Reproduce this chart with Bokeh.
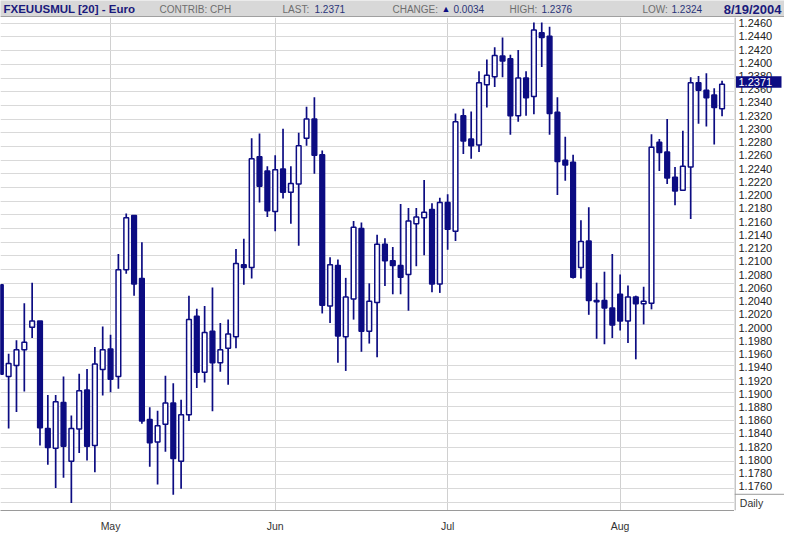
import pandas as pd
from bokeh.plotting import figure
from bokeh.layouts import column, row
from bokeh.models import ColumnDataSource, Range1d, FixedTicker, Grid
from bokeh.core.properties import value
from bokeh.embed import file_html
from bokeh.resources import INLINE

# ---------------- data ----------------
dates = pd.bdate_range("2004-04-13", "2004-08-19")
opens = [1.2078, 1.1944, 1.1960, 1.1983, 1.2016, 1.2025, 1.1868, 1.1839, 1.1906, 1.1820,
         1.1867, 1.1924, 1.1843, 1.1954, 1.1984, 1.1944, 1.2100, 1.2179, 1.2087, 1.1881,
         1.1848, 1.1874, 1.1905, 1.1820, 1.1888, 1.2032, 1.1950, 1.2010, 1.1964, 1.1985,
         1.2002, 1.2107, 1.2103, 1.2265, 1.2244, 1.2185, 1.2247, 1.2213, 1.2225, 1.2292,
         1.2320, 1.2268, 1.2047, 1.2106, 1.2002, 1.2057, 1.2160, 1.2010, 1.2052, 1.2137,
         1.2113, 1.2106, 1.2093, 1.2167, 1.2176, 1.2188, 1.2079, 1.2198, 1.2156, 1.2325,
         1.2291, 1.2282, 1.2370, 1.2382, 1.2412, 1.2408, 1.2325, 1.2380, 1.2353, 1.2446,
         1.2441, 1.2330, 1.2260, 1.2257, 1.2103, 1.2142, 1.2053, 1.2055, 1.2044, 1.2064,
         1.2025, 1.2060, 1.2050, 1.2051, 1.2286, 1.2272, 1.2235, 1.2216, 1.2250, 1.2373,
         1.2362, 1.2355, 1.2335]
highs = [1.2078, 1.1977, 1.1997, 1.2051, 1.2081, 1.2025, 1.1917, 1.1917, 1.1944, 1.1887,
         1.1948, 1.1955, 1.1987, 1.2017, 1.2005, 1.2123, 1.2182, 1.2180, 1.2140, 1.1899,
         1.1894, 1.1945, 1.1934, 1.1910, 1.2062, 1.2043, 1.2047, 1.2074, 1.2022, 1.2027,
         1.2130, 1.2145, 1.2292, 1.2299, 1.2251, 1.2267, 1.2306, 1.2251, 1.2300, 1.2338,
         1.2352, 1.2274, 1.2118, 1.2115, 1.2088, 1.2171, 1.2169, 1.2080, 1.2151, 1.2146,
         1.2133, 1.2196, 1.2190, 1.2190, 1.2231, 1.2197, 1.2205, 1.2210, 1.2328, 1.2335,
         1.2331, 1.2390, 1.2407, 1.2425, 1.2439, 1.2414, 1.2421, 1.2390, 1.2461, 1.2461,
         1.2455, 1.2352, 1.2294, 1.2268, 1.2172, 1.2191, 1.2081, 1.2097, 1.2123, 1.2093,
         1.2077, 1.2062, 1.2075, 1.2298, 1.2291, 1.2320, 1.2250, 1.2303, 1.2381, 1.2383,
         1.2387, 1.2365, 1.2376]
lows = [1.1947, 1.1868, 1.1892, 1.1922, 1.2000, 1.1843, 1.1815, 1.1781, 1.1796, 1.1759,
        1.1832, 1.1821, 1.1804, 1.1916, 1.1921, 1.1926, 1.2094, 1.2062, 1.1875, 1.1812,
        1.1786, 1.1834, 1.1771, 1.1780, 1.1879, 1.1927, 1.1935, 1.1893, 1.1951, 1.1932,
        1.1985, 1.2078, 1.2087, 1.2198, 1.2177, 1.2156, 1.2204, 1.2167, 1.2135, 1.2281,
        1.2240, 1.2036, 1.2022, 1.1964, 1.1952, 1.2027, 1.1980, 1.1992, 1.1972, 1.2076,
        1.2064, 1.2064, 1.2040, 1.2105, 1.2121, 1.2067, 1.2066, 1.2129, 1.2142, 1.2269,
        1.2262, 1.2272, 1.2337, 1.2367, 1.2381, 1.2297, 1.2316, 1.2325, 1.2327, 1.2396,
        1.2297, 1.2209, 1.2230, 1.2087, 1.2087, 1.2034, 1.1999, 1.1991, 1.2000, 1.2011,
        1.1993, 1.1969, 1.2020, 1.2042, 1.2244, 1.2225, 1.2194, 1.2215, 1.2174, 1.2313,
        1.2309, 1.2283, 1.2324]
closes = [1.1947, 1.1963, 1.1983, 1.1994, 1.2025, 1.1869, 1.1840, 1.1907, 1.1842, 1.1868,
          1.1923, 1.1842, 1.1962, 1.1983, 1.1940, 1.2100, 1.2176, 1.2079, 1.1879, 1.1847,
          1.1872, 1.1905, 1.1824, 1.1888, 1.2027, 1.1950, 1.2008, 1.1964, 1.1983, 1.2006,
          1.2109, 1.2103, 1.2262, 1.2222, 1.2186, 1.2246, 1.2213, 1.2226, 1.2281, 1.2320,
          1.2267, 1.2048, 1.2107, 1.2003, 1.2060, 1.2162, 1.2010, 1.2054, 1.2137, 1.2113,
          1.2106, 1.2089, 1.2171, 1.2177, 1.2184, 1.2079, 1.2198, 1.2159, 1.2316, 1.2288,
          1.2281, 1.2373, 1.2384, 1.2413, 1.2405, 1.2325, 1.2380, 1.2351, 1.2450, 1.2439,
          1.2328, 1.2258, 1.2253, 1.2089, 1.2141, 1.2055, 1.2055, 1.2044, 1.2019, 1.2025,
          1.2060, 1.2050, 1.2054, 1.2279, 1.2271, 1.2234, 1.2215, 1.2251, 1.2373, 1.2362,
          1.2351, 1.2337, 1.2371]
price_ticks = [round(1.1760 + 0.002 * k, 4) for k in range(36)]

title_text = "FXEUUSMUL [20] - Euro"
contrib = "CPH"
last_price = 1.2371
change = 0.0034
day_high = 1.2376
day_low = 1.2324
date_text = "8/19/2004"
period_text = "Daily"

# ---------------- layout constants ----------------
NAVY = "#0c0c82"
W = 784
HEAD = 17
BOT = 17
COLW = 50
FW, FH = W - COLW, 500
X0, X1 = -0.0375, 93.5875
Y0, Y1 = 1.17481, 1.24684
SANS = "Liberation Sans"

# ---------------- header ----------------
hd = figure(width=W, height=HEAD, x_range=Range1d(0, W), y_range=Range1d(HEAD, 0),
            output_backend="svg", toolbar_location=None, title=None,
            x_axis_location=None, y_axis_location=None,
            min_border_left=0, min_border_right=0, min_border_top=0, min_border_bottom=0)
hd.grid.visible = False
hd.outline_line_color = None
hd.background_fill_color = "#d8d8d8"
hd.border_fill_color = "#d8d8d8"
hd.segment(x0=[0], y0=[HEAD - 0.7], x1=[W], y1=[HEAD - 0.7], line_color="#a0a0a0", line_width=1.4)

TY = 8.6
hd.text(x=[3], y=[TY], text=[title_text], text_color="#1a1a7c", text_font=value(SANS),
        text_font_size="11.5px", text_font_style="bold", text_baseline="middle")
hd.text(x=[781], y=[TY], text=[date_text], text_color="#1a1a7c", text_font=value(SANS),
        text_font_size="13px", text_font_style="bold", text_baseline="middle", text_align="right")
hd.text(x=[159, 282, 392, 509, 642],
        y=[TY] * 5,
        text=["CONTRIB: " + contrib, "LAST:", "CHANGE:", "HIGH:", "LOW:"],
        text_color="#6e6e6e", text_font=value(SANS), text_font_size="10px",
        text_baseline="middle")
hd.text(x=[314, 453, 541, 671],
        y=[TY] * 4,
        text=[f"{last_price:.4f}", f"{change:.4f}", f"{day_high:.4f}", f"{day_low:.4f}"],
        text_color="#2a3478", text_font=value(SANS), text_font_size="10px",
        text_baseline="middle")
hd.text(x=[441], y=[TY], text=["\u25b2"], text_color=NAVY, text_font=value(SANS),
        text_font_size="9px", text_baseline="middle")

# ---------------- main candle chart ----------------
idx = list(range(len(dates)))
up = [c >= o for o, c in zip(opens, closes)]
src = ColumnDataSource(dict(
    x=idx, open=opens, high=highs, low=lows, close=closes,
    top=[max(o, c) for o, c in zip(opens, closes)],
    bottom=[min(o, c) for o, c in zip(opens, closes)],
    fill=["white" if u else NAVY for u in up],
))

month_idx, month_lab = [], {}
for i, d in enumerate(dates):
    if i > 0 and d.month != dates[i - 1].month:
        month_idx.append(i)
        month_lab[i] = d.strftime("%b")

p = figure(width=FW, height=FH + BOT, x_range=Range1d(X0, X1), y_range=Range1d(Y0, Y1),
           output_backend="svg", toolbar_location=None, title=None, y_axis_location=None,
           min_border_left=0, min_border_top=0, min_border_right=0, min_border_bottom=BOT)
p.outline_line_color = None
p.background_fill_color = "white"
p.border_fill_color = "white"

xa = p.xaxis[0]
xa.ticker = FixedTicker(ticks=month_idx)
xa.major_label_overrides = month_lab
xa.major_tick_line_color = None
xa.minor_tick_line_color = None
xa.axis_line_color = "#9a9a9a"
xa.major_label_text_font = SANS
xa.major_label_text_font_size = "10.5px"
xa.major_label_text_color = "#333333"
xa.major_label_standoff = 3

p.xgrid.ticker = FixedTicker(ticks=month_idx)
p.xgrid.grid_line_color = "#d0d0d0"
p.add_layout(Grid(dimension=1, ticker=FixedTicker(ticks=price_ticks), grid_line_color="#d9d9d9"))

p.segment(x0="x", y0="high", x1="x", y1="low", source=src, line_color=NAVY, line_width=1.7)
p.vbar(x="x", top="top", bottom="bottom", width=0.6, source=src,
       fill_color="fill", line_color=NAVY, line_width=1.5)

# ---------------- price column ----------------
Y0R = Y0 - BOT / FH * (Y1 - Y0)
pc = figure(width=COLW, height=FH + BOT, x_range=Range1d(0, COLW), y_range=Range1d(Y0R, Y1),
            output_backend="svg", toolbar_location=None, title=None,
            x_axis_location=None, y_axis_location=None,
            min_border_left=0, min_border_right=0, min_border_top=0, min_border_bottom=0)
pc.grid.visible = False
pc.outline_line_color = None
pc.background_fill_color = "white"
pc.border_fill_color = "white"

tick_src = ColumnDataSource(dict(y=price_ticks, label=[f"{t:.4f}" for t in price_ticks],
                                 x=[4] * len(price_ticks)))
pc.text(x="x", y="y", text="label", source=tick_src, text_color="#222222",
        text_font=value(SANS), text_font_size="11px", text_baseline="middle")

# separator lines of the price column
pc.segment(x0=[0.5], y0=[Y1], x1=[0.5], y1=[Y0R], line_color="#8e8e8e", line_width=1)
pc.segment(x0=[0], y0=[Y0], x1=[COLW], y1=[Y0], line_color="#9a9a9a", line_width=1)

# last price marker
half = 6 / FH * (Y1 - Y0)
pc.quad(left=[1.5], right=[47], top=[last_price + half], bottom=[last_price - half],
        fill_color=NAVY, line_color=None)
pc.text(x=[4], y=[last_price], text=[f"{last_price:.4f}"], text_color="white",
        text_font=value(SANS), text_font_size="11px", text_baseline="middle")

# period label
pc.text(x=[17], y=[Y0 - 9.5 / FH * (Y1 - Y0)], text=[period_text], text_color="#333333",
        text_font=value(SANS), text_font_size="10.5px", text_baseline="middle",
        text_align="center")

layout = column(hd, row(p, pc, spacing=0), spacing=0)
open("out.html", "w").write(file_html(layout, INLINE))
